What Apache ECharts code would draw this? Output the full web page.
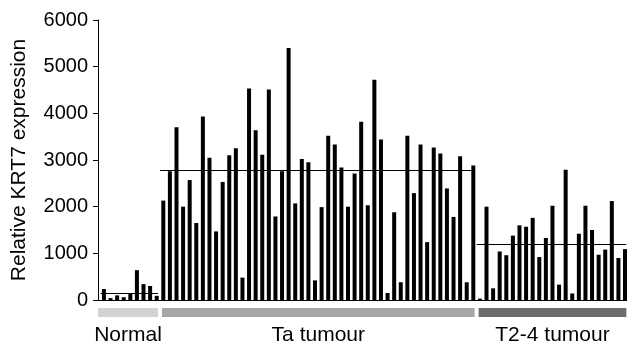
<!DOCTYPE html>
<html>
<head>
<meta charset="utf-8">
<script src="https://cdn.jsdelivr.net/npm/echarts@6/dist/echarts.min.js"></script>
<style>
  html, body { margin: 0; padding: 0; background: #fff; }
  #chart { width: 627px; height: 343px; }
</style>
</head>
<body>
<div id="chart"></div>
<script>
// values, one array per sample group
var normalValues = [235, 40, 100, 60, 140, 640, 340, 300, 90];
var taValues = [2130, 2760, 3700, 2000, 2570, 1650, 3930, 3050, 1470, 2530, 3100, 3250,
                480, 4530, 3640, 3110, 4510, 1790, 2760, 5400, 2070, 3020, 2950, 420,
                1990, 3520, 3330, 2840, 2000, 2710, 3820, 2030, 4720, 3440, 150, 1880,
                380, 3520, 2290, 3330, 1240, 3270, 3140, 2390, 1780, 3080, 380, 2880];
var t2Values = [30, 2000, 250, 1040, 960, 1380, 1600, 1570, 1760, 920, 1330, 2020,
                330, 2790, 140, 1420, 2020, 1500, 970, 1080, 2120, 900, 1090];

var groupNames = ['Normal', 'Ta tumour', 'T2-4 tumour'];
var groupMeans = [150, 2780, 1210];
var groupColors = ['#d2d2d2', '#a6a6a6', '#6c6c6c'];

var yTicks = [0, 1000, 2000, 3000, 4000, 5000, 6000];

// build bar points + group ranges (by sample index)
var groups = [normalValues, taValues, t2Values];
var barData = [];
var ranges = [];
var idx = 0;
groups.forEach(function (vals, g) {
  var start = idx;
  vals.forEach(function (v) {
    barData.push([idx, v]);
    idx++;
  });
  ranges.push([start, idx - 1, groupMeans[g], g]);
});

var X_MIN = -0.9, X_MAX = idx - 0.7;

var myChart = echarts.init(document.getElementById('chart'), null, { renderer: 'canvas' });

var option = {
  animation: false,
  backgroundColor: '#fff',
  grid: { left: 98, right: 0, top: 20, height: 280 },
  xAxis: {
    type: 'value',
    min: X_MIN,
    max: X_MAX,
    axisLine: { show: true, onZero: false, lineStyle: { color: '#000', width: 1 } },
    axisTick: { show: false },
    axisLabel: { show: false },
    splitLine: { show: false }
  },
  yAxis: {
    type: 'value',
    min: yTicks[0],
    max: yTicks[yTicks.length - 1],
    interval: 1000,
    name: 'Relative KRT7 expression',
    nameLocation: 'middle',
    nameGap: 68,
    nameTextStyle: { fontFamily: 'Liberation Sans', fontSize: 21, color: '#000' },
    axisLine: { show: true, onZero: false, lineStyle: { color: '#000', width: 1 } },
    axisTick: { show: true, length: 5, lineStyle: { color: '#000' } },
    axisLabel: {
      fontFamily: 'Liberation Sans', fontSize: 20, color: '#000', margin: 10,
      formatter: function (v) { return String(v); }
    },
    splitLine: { show: false }
  },
  series: [
    {
      name: 'KRT7',
      type: 'bar',
      data: barData,
      barWidth: 4,
      itemStyle: { color: '#000' }
    },
    {
      // group mean lines
      name: 'mean',
      type: 'custom',
      data: ranges,
      clip: true,
      renderItem: function (params, api) {
        var p0 = api.coord([api.value(0) - 0.5, api.value(2)]);
        var p1 = api.coord([api.value(1) + 0.2, api.value(2)]);
        return {
          type: 'line',
          shape: { x1: p0[0], y1: Math.round(p0[1]) + 0.5, x2: p1[0], y2: Math.round(p1[1]) + 0.5 },
          style: { stroke: '#000', lineWidth: 1 }
        };
      }
    },
    {
      // grey group bands + labels under the axis
      name: 'groups',
      type: 'custom',
      data: ranges,
      clip: false,
      renderItem: function (params, api) {
        var g = api.value(3);
        var x0v = api.value(0) === 0 ? X_MIN : api.value(0) - 0.2;
        var x1v = Math.min(api.value(1) + 0.2, X_MAX);
        var p0 = api.coord([x0v, 0]);
        var p1 = api.coord([x1v, 0]);
        var y = p0[1] + 8;
        return {
          type: 'group',
          children: [
            {
              type: 'rect',
              shape: { x: p0[0], y: y, width: p1[0] - p0[0], height: 9 },
              style: { fill: groupColors[g] }
            },
            {
              type: 'text',
              style: {
                x: (p0[0] + p1[0]) / 2,
                y: y + 17,
                text: groupNames[g],
                fill: '#000',
                font: '21px "Liberation Sans"',
                textAlign: 'center',
                textVerticalAlign: 'top'
              }
            }
          ]
        };
      }
    }
  ]
};

if (option && typeof option === "object") {
  myChart.setOption(option, true);
}
</script>
</body>
</html>
